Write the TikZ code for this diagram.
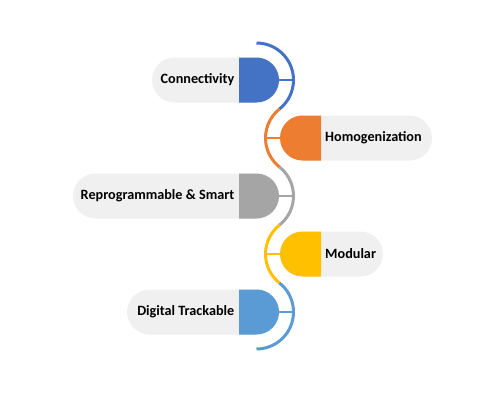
\documentclass[tikz,border=0pt]{standalone}
\usepackage{fontspec}
\setmainfont{Carlito}
\usepackage{tikz}
\usetikzlibrary{positioning}
\usetikzlibrary{calc}
\definecolor{rowblue}{HTML}{4472C4}
\definecolor{roworange}{HTML}{ED7D31}
\definecolor{rowgrey}{HTML}{A5A5A5}
\definecolor{rowyellow}{HTML}{FFC000}
\definecolor{rowlight}{HTML}{5B9BD5}
\definecolor{pillgrey}{HTML}{F0F0F0}

\begin{document}
\begin{tikzpicture}[x=1pt, y=1pt,
  every label/.style={font=\fontsize{14.2}{16}\selectfont\bfseries, inner sep=2pt},
  pill/.style={fill=pillgrey, rounded corners=22.5pt},
  spine/.style={line width=3pt},
  stub/.style={line width=2pt}]

\useasboundingbox (0,0) rectangle (500,400);

% rows with the cap on the right
\foreach \i/\yc/\xl/\col/\txt in {1/320/152/rowblue/Connectivity,
    3/204/73/rowgrey/Reprogrammable \& Smart,
    5/88/127/rowlight/Digital Trackable}
{
  \fill [pill] (\xl,\yc-22.5) rectangle (279,\yc+22.5);
  \fill [\col] (239,\yc-22.5) -- (256.5,\yc-22.5)
    arc[start angle=-90, end angle=90, radius=22.5] -- (239,\yc+22.5) -- cycle;
  \coordinate (hub-\i) at (256.5,\yc);
  \coordinate (rim-\i) at (293.5,\yc);
  \node [every label/.try, anchor=east] (label-\i) at (236.5,\yc) {\txt};
  \draw [stub, \col] (279,\yc) -- (rim-\i);
}

% rows with the cap on the left
\foreach \i/\yc/\xr/\col/\txt in {2/262/432/roworange/Homogenization,
    4/146/383/rowyellow/Modular}
{
  \fill [pill] (280,\yc-22.5) rectangle (\xr,\yc+22.5);
  \fill [\col] (321,\yc-22.5) -- (302.5,\yc-22.5)
    arc[start angle=270, end angle=90, radius=22.5] -- (321,\yc+22.5) -- cycle;
  \coordinate (hub-\i) at (302.5,\yc);
  \coordinate (rim-\i) at (265.5,\yc);
  \node [every label/.try, anchor=west] (label-\i) at (323,\yc) {\txt};
  \draw [stub, \col] (280,\yc) -- (rim-\i);
}

% the winding line
\foreach \i/\a/\b/\col in {1/90/-51.6/rowblue, 2/128.4/231.6/roworange,
    3/51.6/-51.6/rowgrey, 4/128.4/231.6/rowyellow, 5/51.6/-90/rowlight}
  \draw [spine, \col] (hub-\i) ++(\a:37) arc[start angle=\a, end angle=\b, radius=37];

\end{tikzpicture}
\end{document}
